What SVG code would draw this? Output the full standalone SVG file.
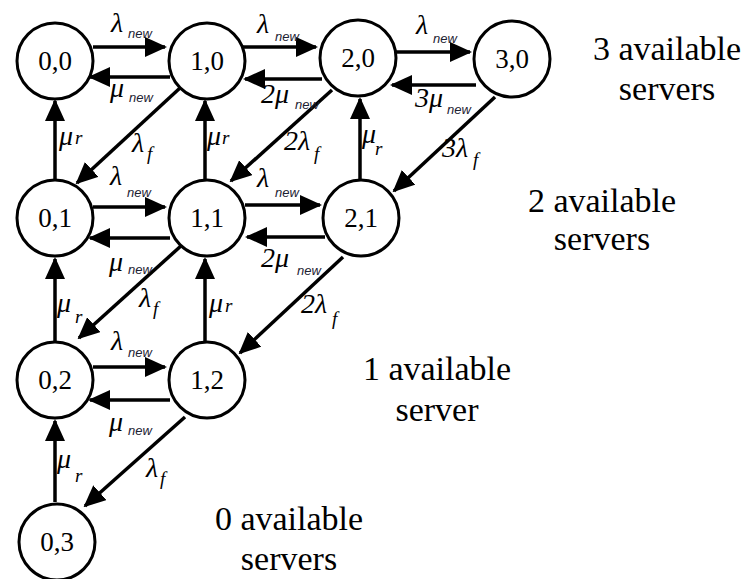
<svg xmlns="http://www.w3.org/2000/svg" width="745" height="579" viewBox="0 0 745 579">
  <style>
    .node circle { fill: #ffffff; stroke: #000000; stroke-width: 3; }
    .node text { font-family: "Liberation Serif", "Times New Roman", serif; font-size: 27px; text-anchor: middle; fill: #000000; }
    .edge { stroke: #000000; stroke-width: 3.5; fill: none; marker-end: url(#head); }
    .g { font-family: "Liberation Serif", "Times New Roman", serif; font-style: italic; font-size: 28px; fill: #000000; }
    .s { font-family: "Liberation Serif", "Times New Roman", serif; font-style: italic; font-size: 19px; fill: #000000; }
    .n { font-family: "Liberation Sans", Arial, sans-serif; font-style: italic; font-size: 13px; fill: #1c2233; }
    .cap { font-family: "Liberation Serif", "Times New Roman", serif; font-size: 34px; text-anchor: middle; fill: #000000; }
  </style>
  <defs>
    <marker id="head" markerUnits="userSpaceOnUse" markerWidth="22" markerHeight="20" refX="20" refY="10" orient="auto">
      <path d="M0,0 L22,10 L0,20 Z" fill="#000000"/>
    </marker>
  </defs>

  <!-- transitions -->
  <g id="connectors">
    <!-- new requests (right) and completions (left), 3-server row -->
    <line class="edge" x1="93" y1="47" x2="165" y2="47"/>
    <line class="edge" x1="170" y1="77" x2="90" y2="77"/>
    <line class="edge" x1="243" y1="47" x2="316" y2="47"/>
    <line class="edge" x1="322" y1="79" x2="245" y2="79"/>
    <line class="edge" x1="396" y1="52" x2="470" y2="52"/>
    <line class="edge" x1="476" y1="85" x2="392" y2="85"/>
    <!-- 2-server row -->
    <line class="edge" x1="93" y1="207" x2="165" y2="207"/>
    <line class="edge" x1="170" y1="238" x2="90" y2="238"/>
    <line class="edge" x1="245" y1="205" x2="320" y2="205"/>
    <line class="edge" x1="325" y1="237" x2="247" y2="237"/>
    <!-- 1-server row -->
    <line class="edge" x1="93" y1="367" x2="165" y2="367"/>
    <line class="edge" x1="170" y1="400" x2="90" y2="400"/>
    <!-- repairs (upward) -->
    <line class="edge" x1="55" y1="180" x2="55" y2="101"/>
    <line class="edge" x1="205" y1="180" x2="205" y2="101"/>
    <line class="edge" x1="360" y1="180" x2="360" y2="99"/>
    <line class="edge" x1="55" y1="342" x2="55" y2="259"/>
    <line class="edge" x1="205" y1="342" x2="205" y2="259"/>
    <line class="edge" x1="55" y1="502" x2="55" y2="421"/>
    <!-- failures (diagonal, down-left) -->
    <line class="edge" x1="180" y1="88" x2="77" y2="183"/>
    <line class="edge" x1="332" y1="90" x2="231" y2="181"/>
    <line class="edge" x1="495" y1="97" x2="394" y2="191"/>
    <line class="edge" x1="182" y1="245" x2="79" y2="338"/>
    <line class="edge" x1="343" y1="257" x2="240" y2="353"/>
    <line class="edge" x1="185" y1="417" x2="85" y2="506"/>
  </g>

  <!-- states (busy, failed) -->
  <g id="n00" class="node"><circle cx="55" cy="61" r="38"/><text x="55" y="70">0,0</text></g>
  <g id="n10" class="node"><circle cx="207" cy="61" r="38"/><text x="207" y="70">1,0</text></g>
  <g id="n20" class="node"><circle cx="358" cy="58" r="38"/><text x="358" y="67">2,0</text></g>
  <g id="n30" class="node"><circle cx="512" cy="59" r="38"/><text x="512" y="68">3,0</text></g>
  <g id="n01" class="node"><circle cx="55" cy="218" r="38"/><text x="55" y="227">0,1</text></g>
  <g id="n11" class="node"><circle cx="207" cy="218" r="38"/><text x="207" y="227">1,1</text></g>
  <g id="n21" class="node"><circle cx="361" cy="218" r="38"/><text x="361" y="227">2,1</text></g>
  <g id="n02" class="node"><circle cx="55" cy="380" r="38"/><text x="55" y="389">0,2</text></g>
  <g id="n12" class="node"><circle cx="207" cy="380" r="38"/><text x="207" y="389">1,2</text></g>
  <g id="n03" class="node"><circle cx="57" cy="542" r="38"/><text x="57" y="551">0,3</text></g>

  <!-- rate labels -->
  <g id="rates">
    <text class="g" x="111" y="32">λ</text><text class="n" x="128" y="38">new</text>
    <text class="g" x="110" y="97">μ</text><text class="n" x="129" y="102">new</text>
    <text class="g" x="257" y="33">λ</text><text class="n" x="275" y="41">new</text>
    <text class="g" x="261" y="103">2μ</text><text class="n" x="295" y="109">new</text>
    <text class="g" x="416" y="34">λ</text><text class="n" x="433" y="43">new</text>
    <text class="g" x="415" y="107">3μ</text><text class="n" x="447" y="114">new</text>

    <text class="g" x="284" y="150">2λ</text><text class="s" x="314" y="160">f</text>
    <text class="g" x="362" y="143">μ</text><text class="s" x="375" y="155">r</text>
    <text class="g" x="442" y="157">3λ</text><text class="s" x="473" y="166">f</text>
    <text class="g" x="59" y="145">μ</text><text class="s" x="75" y="144">r</text>
    <text class="g" x="132" y="152">λ</text><text class="s" x="147" y="160">f</text>
    <text class="g" x="207" y="145">μ</text><text class="s" x="222" y="144">r</text>

    <text class="g" x="110" y="185">λ</text><text class="n" x="127" y="197">new</text>
    <text class="g" x="109" y="271">μ</text><text class="n" x="128" y="274">new</text>
    <text class="g" x="257" y="187">λ</text><text class="n" x="275" y="197">new</text>
    <text class="g" x="261" y="267">2μ</text><text class="n" x="297" y="275">new</text>
    <text class="g" x="301" y="313">2λ</text><text class="s" x="332" y="325">f</text>
    <text class="g" x="139" y="307">λ</text><text class="s" x="153" y="315">f</text>
    <text class="g" x="57" y="312">μ</text><text class="s" x="75" y="323">r</text>
    <text class="g" x="209" y="312">μ</text><text class="s" x="225" y="312">r</text>

    <text class="g" x="111" y="350">λ</text><text class="n" x="128" y="357">new</text>
    <text class="g" x="109" y="431">μ</text><text class="n" x="128" y="435">new</text>
    <text class="g" x="146" y="477">λ</text><text class="s" x="160" y="485">f</text>
    <text class="g" x="57" y="468">μ</text><text class="s" x="75" y="482">r</text>
  </g>

  <!-- server availability captions -->
  <g id="captions">
    <text class="cap" x="667" y="60">3 available</text>
    <text class="cap" x="667" y="100">servers</text>
    <text class="cap" x="602" y="212">2 available</text>
    <text class="cap" x="602" y="250">servers</text>
    <text class="cap" x="437" y="380">1 available</text>
    <text class="cap" x="437" y="421">server</text>
    <text class="cap" x="289" y="530">0 available</text>
    <text class="cap" x="289" y="570">servers</text>
  </g>
</svg>
